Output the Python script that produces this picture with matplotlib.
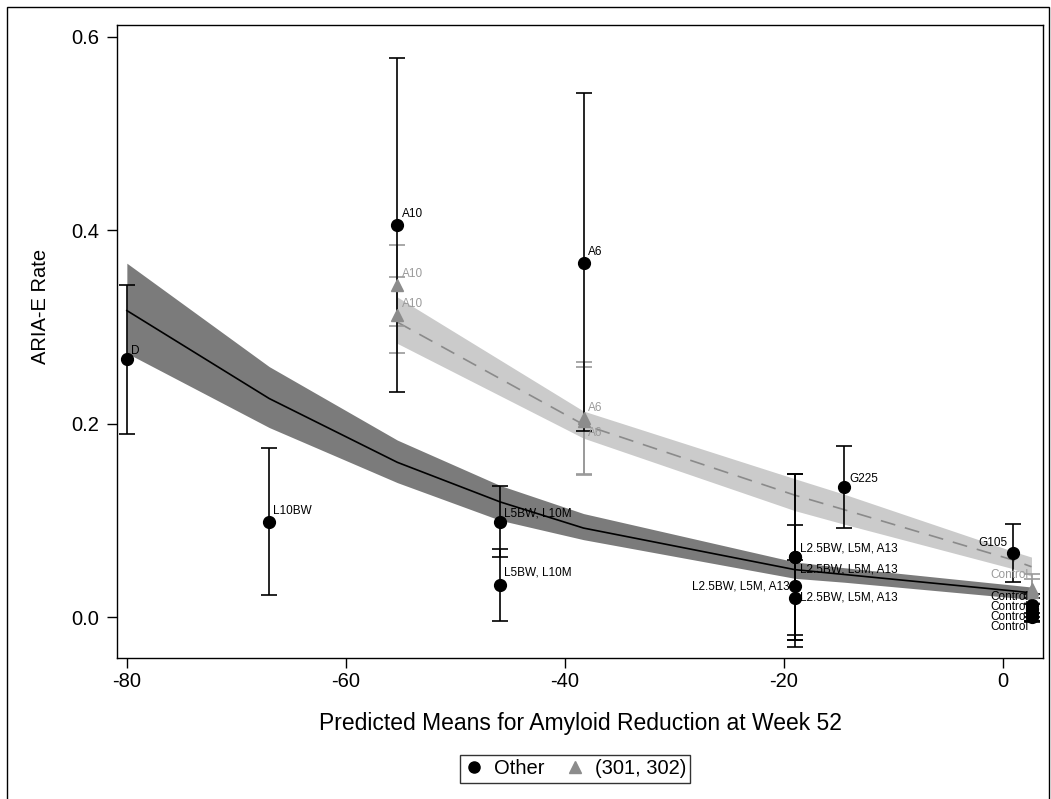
import matplotlib
matplotlib.use("Agg")
import matplotlib.pyplot as plt
from matplotlib.patches import Rectangle
from matplotlib.lines import Line2D
import numpy as np

plt.rcParams['font.family'] = ['Liberation Sans', 'DejaVu Sans']

# ---------------- data ----------------
# "Other" studies (black circles)
other_labels = ["D", "L10BW", "A10", "A6", "L5BW, L10M", "L5BW, L10M",
                "L2.5BW, L5M, A13", "L2.5BW, L5M, A13", "L2.5BW, L5M, A13",
                "L2.5BW, L5M, A13",
                "G225", "G105", "Control", "Control", "Control", "Control"]
other_x = [-80.0, -67.0, -55.3, -38.3, -45.9, -45.9,
           -19.0, -19.0, -19.0, -19.0, -14.5, 0.9, 2.6, 2.6, 2.6, 2.6]
other_y = [0.267, 0.098, 0.405, 0.366, 0.098, 0.033,
           0.062, 0.062, 0.032, 0.020, 0.134, 0.066, 0.012, 0.008, 0.004, 0.000]
other_lo = [0.189, 0.023, 0.233, 0.192, 0.062, -0.004,
            -0.024, -0.024, -0.031, -0.019, 0.092, 0.036, 0.000, -0.004, -0.005, -0.004]
other_hi = [0.343, 0.175, 0.578, 0.542, 0.136, 0.070,
            0.148, 0.148, 0.095, 0.059, 0.177, 0.096, 0.024, 0.020, 0.013, 0.004]

# Studies 301, 302 (gray triangles)
s3_labels = ["A10", "A10", "A6", "A6", "Control", "Control"]
s3_x = [-55.3, -55.3, -38.3, -38.3, 2.6, 2.6]
s3_y = [0.343, 0.312, 0.206, 0.203, 0.029, 0.026]
s3_lo = [0.301, 0.273, 0.148, 0.147, 0.014, 0.013]
s3_hi = [0.385, 0.352, 0.264, 0.259, 0.044, 0.039]

# Model fit, Other
fit_o_x = [-80.0, -67.0, -55.3, -45.9, -38.3, -19.0, -14.5, 0.9, 2.6]
fit_o_y = [0.317, 0.226, 0.160, 0.119, 0.092, 0.049, 0.044, 0.027, 0.025]
fit_o_lo = [0.273, 0.196, 0.139, 0.100, 0.080, 0.040, 0.036, 0.020, 0.018]
fit_o_hi = [0.366, 0.259, 0.183, 0.136, 0.107, 0.057, 0.051, 0.033, 0.031]

# Model fit, 301/302
fit_s_x = [-55.3, -38.3, -19.0, -14.5, 0.9, 2.6]
fit_s_y = [0.305, 0.199, 0.126, 0.111, 0.059, 0.052]
fit_s_lo = [0.283, 0.185, 0.110, 0.096, 0.050, 0.042]
fit_s_hi = [0.331, 0.213, 0.143, 0.127, 0.068, 0.062]

x_ticks = [-80, -60, -40, -20, 0]
y_ticks = [0.0, 0.2, 0.4, 0.6]

# label offsets in points (layout): dx, dy, ha
other_off = [(3, 6, 'left'), (3, 8, 'left'), (3, 8, 'left'), (3, 8, 'left'),
             (3, 6, 'left'), (3, 9, 'left'),
             (4, 6, 'left'), (4, -9, 'left'), (-4, 0, 'right'), (4, 0, 'left'),
             (4, 6, 'left'), (-4, 7, 'right'),
             (-2, 5.8, 'right'), (-2, 1.4, 'right'), (-2, -2.9, 'right'), (-2, -7.2, 'right')]
s3_off = [(3, 8, 'left'), (3, 8, 'left'), (3, 7, 'left'), (3, -9, 'left'),
          (-2, 10, 'right'), (-2, -1, 'right')]
s3_lab_z = [6, 6, 6, 6, 6, 0.9]

BLACK = '#000000'
GRAY_PT = '#8c8c8c'
GRAY_TXT = '#9a9a9a'
DARK_BAND = '#7b7b7b'
LIGHT_BAND = '#cbcbcb'

# ---------------- figure ----------------
fig = plt.figure(figsize=(10.51, 7.99), dpi=100)
ax = fig.add_axes([117/1051, 1-658/799, (1043-117)/1051, (658-25)/799])

ax.fill_between(fit_o_x, fit_o_lo, fit_o_hi, color=DARK_BAND, lw=0, zorder=1)
ax.fill_between(fit_s_x, fit_s_lo, fit_s_hi, color=LIGHT_BAND, lw=0, zorder=1)
ax.plot(fit_o_x, fit_o_y, color='black', lw=1.2, zorder=2)
ax.plot(fit_s_x, fit_s_y, color='#8a8a8a', lw=1.2, dashes=(9, 6), zorder=2)

ox = np.array(other_x); oy = np.array(other_y)
ax.errorbar(ox, oy, yerr=[oy - np.array(other_lo), np.array(other_hi) - oy],
            fmt='o', color=BLACK, ms=8.5, elinewidth=1.2, capsize=6, capthick=1.2,
            zorder=4)
sx = np.array(s3_x); sy = np.array(s3_y)
ax.errorbar(sx, sy, yerr=[sy - np.array(s3_lo), np.array(s3_hi) - sy],
            fmt='none', ecolor='#999999', elinewidth=1.2, capsize=6, capthick=1.2,
            zorder=3)
ax.plot(sx, sy, '^', color=GRAY_PT, ms=9, zorder=5, lw=0)

for lab, x, y, (dx, dy, ha) in zip(other_labels, other_x, other_y, other_off):
    ax.annotate(lab, (x, y), xytext=(dx, dy), textcoords='offset points',
                ha=ha, va='center', fontsize=8.5, color='black', zorder=6)
for lab, x, y, (dx, dy, ha), z in zip(s3_labels, s3_x, s3_y, s3_off, s3_lab_z):
    ax.annotate(lab, (x, y), xytext=(dx, dy), textcoords='offset points',
                ha=ha, va='center', fontsize=8.5, color=GRAY_TXT, zorder=z)

ax.set_xlim(-80.9, 3.65)
ax.set_ylim(-0.0424, 0.6124)
ax.set_xticks(x_ticks)
ax.set_yticks(y_ticks)
ax.set_xticklabels([str(t) for t in x_ticks])
ax.set_yticklabels([f"{t:.1f}" for t in y_ticks])
ax.tick_params(direction='out', length=7, width=1, labelsize=14.5)
ax.tick_params(axis='x', pad=3)
ax.tick_params(axis='y', pad=6)
for s in ax.spines.values():
    s.set_linewidth(1)

ax.set_xlabel("Predicted Means for Amyloid Reduction at Week 52", fontsize=16.5,
              labelpad=15)
ax.set_ylabel("ARIA-E Rate", fontsize=14.5)
ax.yaxis.set_label_coords(-0.072, 0.556)

handles = [Line2D([], [], marker='o', color='black', ls='none', ms=8),
           Line2D([], [], marker='^', color=GRAY_PT, ls='none', ms=9)]
leg = fig.legend(handles, ["Other", "(301, 302)"], loc='center',
                 bbox_to_anchor=(575/1051, 1-769/799), ncol=2, fontsize=14.5,
                 frameon=True, fancybox=False, edgecolor='black',
                 handlelength=1.0, handletextpad=0.5, columnspacing=1.0,
                 borderpad=0.2, borderaxespad=0)
leg.get_frame().set_linewidth(1)

fig.patches.append(Rectangle((7/1051, -0.05), (1049-7)/1051, 1-7/799+0.05,
                             transform=fig.transFigure, fill=False,
                             edgecolor='black', lw=1))

fig.savefig("out.png", dpi=100)
